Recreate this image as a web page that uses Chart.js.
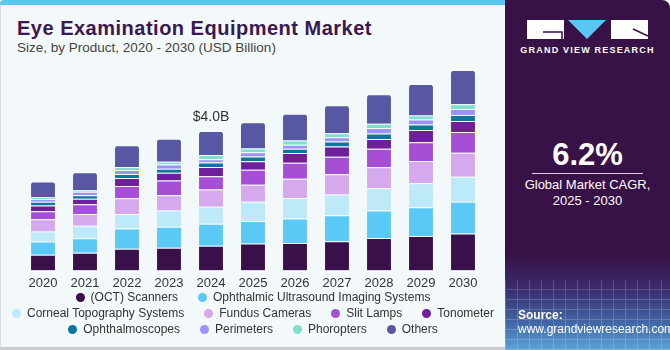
<!DOCTYPE html>
<html>
<head>
<meta charset="utf-8">
<script src="https://cdn.jsdelivr.net/npm/chart.js@4"></script>
<style>
  html, body { margin: 0; padding: 0; }
  body { width: 670px; height: 350px; position: relative; overflow: hidden; background: #ffffff;
         font-family: "Liberation Sans", Arial, sans-serif; }
  #left { position: absolute; left: 0; top: 0; width: 505px; height: 348px; background: #f3f8fb;
          border-left: 1px solid #d6dde2; box-sizing: border-box; border-top-left-radius: 4px; }
  #strip { position: absolute; left: 0; top: 0; width: 505px; height: 5px; background: #5ac6ee; border-top-left-radius: 4px; }
  #bottomLine { position: absolute; left: 0; top: 347px; width: 505px; height: 3px; background: #c9cdd0; }
  #title { position: absolute; left: 17px; top: 18px; font-size: 20px; line-height: 20px; font-weight: bold;
           letter-spacing: 0.5px; color: #3a1850; white-space: nowrap; }
  #subtitle { position: absolute; left: 17px; top: 40px; font-size: 13.5px; line-height: 16px; color: #444; white-space: nowrap; }
  #chartWrap { position: absolute; left: 0; top: 60px; width: 505px; height: 236px; }
  #legend { position: absolute; left: 6px; top: 289px; width: 494px; display: flex; flex-wrap: wrap;
            justify-content: center; column-gap: 20px; font-size: 12px; line-height: 16px; color: #333; }
  .item { display: flex; align-items: center; white-space: nowrap; }
  .dot { width: 9px; height: 9px; border-radius: 50%; margin-right: 6px; }
  #right { position: absolute; left: 505px; top: 0; width: 165px; height: 350px; border-top-right-radius: 8px;
           background: linear-gradient(to bottom, #381147 0px, #381147 255px, #3a2d70 290px, #436aa8 325px, #5aa4d8 350px); overflow: hidden; }
  #grid { position: absolute; left: 0; top: 280px; width: 165px; height: 70px; opacity: 0.18;
          background-image: repeating-linear-gradient(90deg, #fff 0 1px, transparent 1px 12px),
                            repeating-linear-gradient(0deg, #fff 0 1px, transparent 1px 10px); }
  #brand { position: absolute; left: 0; top: 45px; width: 165px; text-align: center; color: #fff; font-size: 9px;
           font-weight: bold; letter-spacing: 1.2px; }
  #cagr { position: absolute; left: 0; top: 138px; width: 165px; text-align: center; color: #fff; font-size: 31px;
          font-weight: bold; line-height: 34px; }
  #rule { position: absolute; left: 27px; top: 173px; width: 111px; height: 1px; background: #d9cfe0; }
  #cagrText { position: absolute; left: 0; top: 177px; width: 165px; text-align: center; color: #fff; font-size: 13px; line-height: 16px; }
  #source { position: absolute; left: 13px; top: 308px; color: #fff; font-size: 12px; line-height: 14px; }
</style>
</head>
<body>
<div id="left"></div>
<div id="strip"></div>
<div id="bottomLine"></div>
<div id="title">Eye Examination Equipment Market</div>
<div id="subtitle">Size, by Product, 2020 - 2030 (USD Billion)</div>
<div id="chartWrap"><canvas id="marketChart"></canvas></div>
<div id="legend"></div>

<div id="right">
  <div id="grid"></div>
  <svg style="position:absolute;left:22px;top:20px" width="122" height="20" viewBox="0 0 122 20">
    <rect x="0" y="0" width="37" height="19" fill="#ffffff"/>
    <path d="M16 12 H35 V19" stroke="#381147" stroke-width="1.5" fill="none"/>
    <polygon points="41,0 79,0 60,19" fill="#5ac6f2"/>
    <rect x="84" y="0" width="37" height="19" fill="#ffffff"/>
    <path d="M106 9 L121 16" stroke="#381147" stroke-width="1.5" fill="none"/>
  </svg>
  <div id="brand">GRAND VIEW RESEARCH</div>
  <div id="cagr">6.2%</div>
  <div id="rule"></div>
  <div id="cagrText">Global Market CAGR,<br>2025 - 2030</div>
  <div id="source"><b>Source:</b><br>www.grandviewresearch.com</div>
</div>

<script>
// Values in USD Billion
const years = ['2020', '2021', '2022', '2023', '2024', '2025', '2026', '2027', '2028', '2029', '2030'];

const octScanners     = [0.45, 0.51, 0.62, 0.65, 0.71, 0.77, 0.79, 0.84, 0.93, 0.99, 1.06];
const ultrasound      = [0.38, 0.41, 0.58, 0.60, 0.63, 0.65, 0.70, 0.74, 0.79, 0.82, 0.91];
const cornealTopo     = [0.29, 0.36, 0.42, 0.47, 0.49, 0.55, 0.59, 0.60, 0.64, 0.69, 0.72];
const fundusCameras   = [0.35, 0.34, 0.45, 0.44, 0.49, 0.49, 0.55, 0.58, 0.60, 0.64, 0.69];
const slitLamps       = [0.23, 0.28, 0.35, 0.42, 0.38, 0.43, 0.46, 0.50, 0.53, 0.54, 0.59];
const tonometer       = [0.16, 0.16, 0.23, 0.22, 0.27, 0.24, 0.28, 0.30, 0.28, 0.35, 0.32];
const ophthalmoscopes = [0.11, 0.10, 0.12, 0.12, 0.13, 0.14, 0.12, 0.14, 0.16, 0.16, 0.17];
const perimeters      = [0.08, 0.10, 0.11, 0.12, 0.09, 0.12, 0.12, 0.12, 0.16, 0.14, 0.17];
const phoropters      = [0.05, 0.05, 0.09, 0.08, 0.12, 0.11, 0.12, 0.12, 0.12, 0.12, 0.14];
const others          = [0.45, 0.51, 0.62, 0.66, 0.69, 0.75, 0.77, 0.80, 0.85, 0.90, 0.98];

const seriesNames = ['(OCT) Scanners', 'Ophthalmic Ultrasound Imaging Systems', 'Corneal Topography Systems',
  'Fundus Cameras', 'Slit Lamps', 'Tonometer', 'Ophthalmoscopes', 'Perimeters', 'Phoropters', 'Others'];
const seriesValues = [octScanners, ultrasound, cornealTopo, fundusCameras, slitLamps, tonometer,
  ophthalmoscopes, perimeters, phoropters, others];

const calloutYear = '2024';

const palette = ['#39104a', '#5bc9f5', '#bde9f9', '#d6a9ee', '#a64fd6', '#6e1f99',
  '#0e74a0', '#9b92fa', '#7fdfcf', '#5757a3'];

(function() {
  'use strict';

  // total label above one bar
  const calloutPlugin = {
    id: 'callout',
    afterDatasetsDraw(chart) {
      const idx = years.indexOf(calloutYear);
      const topMeta = chart.getDatasetMeta(chart.data.datasets.length - 1);
      const bar = topMeta.data[idx];
      if (!bar) return;
      const total = seriesValues.reduce((s, arr) => s + arr[idx], 0);
      const ctx = chart.ctx;
      ctx.save();
      ctx.font = '14px "Liberation Sans", Arial, sans-serif';
      ctx.fillStyle = '#333';
      ctx.textAlign = 'center';
      ctx.textBaseline = 'alphabetic';
      ctx.fillText('$' + total.toFixed(1) + 'B', bar.x, bar.y - 10);
      ctx.restore();
    }
  };

  const datasets = seriesNames.map((name, i) => ({
    label: name,
    data: seriesValues[i],
    backgroundColor: palette[i],
    borderColor: 'rgba(255, 255, 255, 0.35)',
    borderWidth: { top: 1, left: 0, right: 0, bottom: 0 },
    borderSkipped: false,
    borderRadius: i === seriesNames.length - 1 ? { topLeft: 3, topRight: 3 } : 0,
    barPercentage: 0.57,
    categoryPercentage: 1.0
  }));

  new Chart(document.getElementById('marketChart'), {
    type: 'bar',
    data: { labels: years, datasets },
    options: {
      responsive: true,
      maintainAspectRatio: false,
      animation: false,
      layout: { padding: { left: 22, right: 21, top: 0, bottom: 0 } },
      plugins: {
        legend: { display: false },
        tooltip: { enabled: false }
      },
      scales: {
        x: {
          stacked: true,
          grid: { display: false, drawTicks: false },
          border: { display: false },
          ticks: {
            color: '#333',
            padding: 5,
            font: { family: '"Liberation Sans", Arial, sans-serif', size: 13 }
          }
        },
        y: {
          stacked: true,
          display: false,
          min: 0,
          max: 6.04
        }
      }
    },
    plugins: [calloutPlugin]
  });

  // legend rows built from the same names and colours
  const legendEl = document.getElementById('legend');
  seriesNames.forEach((name, i) => {
    const item = document.createElement('div');
    item.className = 'item';
    const dot = document.createElement('span');
    dot.className = 'dot';
    dot.style.background = palette[i];
    const txt = document.createElement('span');
    txt.textContent = name;
    item.appendChild(dot);
    item.appendChild(txt);
    legendEl.appendChild(item);
  });
})();
</script>
</body>
</html>
